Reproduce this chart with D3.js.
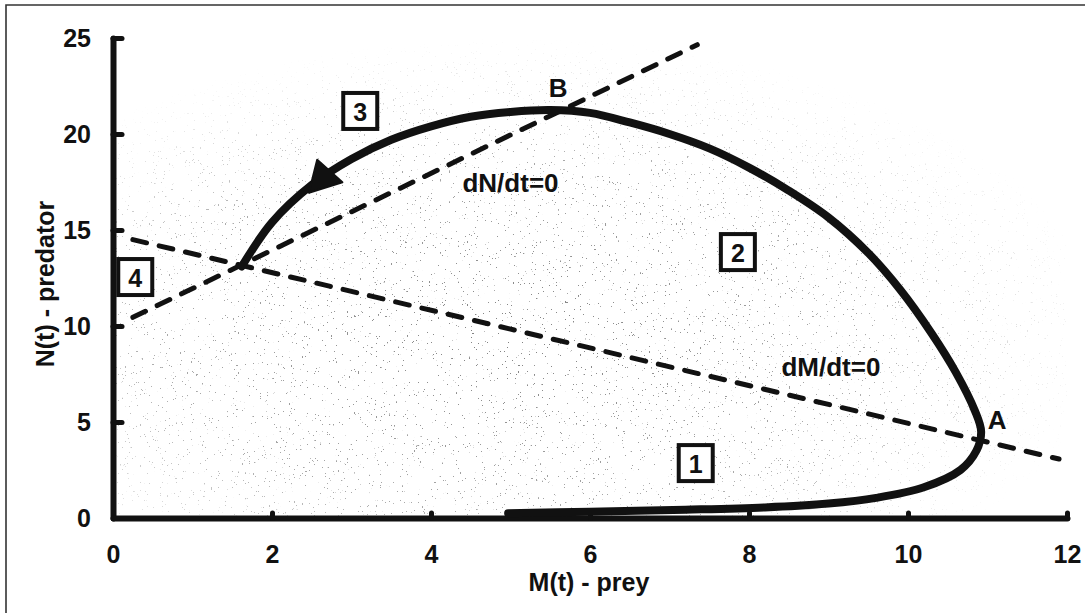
<!DOCTYPE html>
<html><head><meta charset="utf-8">
<script src="https://cdn.jsdelivr.net/npm/d3@7"></script>
<style>
html,body{margin:0;padding:0;background:#fff;}
svg{display:block;}
text{font-family:"Liberation Sans",Arial,sans-serif;font-weight:bold;fill:#111;}
</style></head>
<body><svg id="chart" width="1085" height="613"></svg>
<script>
// ---- data ----
const xTicks = [0, 2, 4, 6, 8, 10, 12];
const yTicks = [0, 5, 10, 15, 20, 25];
const xTitle = "M(t) - prey";
const yTitle = "N(t) - predator";
// trajectory (prey M, predator N)
const orbitM = [1.62, 2.0, 2.5, 3.0, 3.5, 4.0, 4.5, 5.0, 5.5, 6.0, 6.5, 7.0, 7.5, 8.0, 8.5, 9.0, 9.5, 9.9, 10.3, 10.6, 10.84, 10.92, 10.86, 10.66, 10.2, 9.6, 9.0, 8.2, 7.2, 6.0, 4.97];
const orbitN = [13.1, 15.4, 17.35, 18.7, 19.7, 20.4, 20.9, 21.15, 21.25, 21.1, 20.6, 20.0, 19.25, 18.25, 17.05, 15.65, 13.8, 11.9, 9.6, 7.6, 5.6, 4.5, 3.5, 2.5, 1.6, 1.05, 0.75, 0.55, 0.43, 0.33, 0.25];
// null-clines
const dMnullM = [0.25, 11.9];
const dMnullN = [14.5, 3.07];
const dNnullM = [0.25, 7.35];
const dNnullN = [10.45, 24.65];
// arrow marker on trajectory
const arrowM = 2.62, arrowN = 17.8;
// annotations
const labelText = ["A", "B", "dN/dt=0", "dM/dt=0"];
const labelM = [11.12, 5.6, 5.0, 9.03];
const labelN = [5.1, 22.4, 17.45, 7.86];
const boxText = ["1", "2", "3", "4"];
const boxM = [7.33, 7.86, 3.11, 0.28];
const boxN = [2.86, 13.85, 21.2, 12.55];

// ---- drawing ----
const svg = d3.select("#chart");
const W = 1085, H = 613;
const m = {left: 113, top: 38, right: 18, bottom: 95};
const x = d3.scaleLinear().domain([0, 12]).range([m.left, W - m.right]);
const y = d3.scaleLinear().domain([0, 25]).range([H - m.bottom, m.top]);

// scanned-paper speckle texture (sparse dark specks, denser lower-left)
const defs = svg.append("defs");
const f = defs.append("filter").attr("id", "speck")
  .attr("x", 0).attr("y", 0).attr("width", 1).attr("height", 1)
  .attr("color-interpolation-filters", "sRGB");
f.append("feTurbulence").attr("type", "fractalNoise").attr("baseFrequency", 0.55)
  .attr("numOctaves", 2).attr("seed", 7);
f.append("feColorMatrix").attr("type", "matrix")
  .attr("values", "0 0 0 0 0  0 0 0 0 0  0 0 0 0 0  40 0 0 0 -29");
const rg = defs.append("radialGradient").attr("id", "fade")
  .attr("cx", 0.42).attr("cy", 0.62).attr("r", 0.62);
rg.append("stop").attr("offset", 0).attr("stop-color", "#fff");
rg.append("stop").attr("offset", 0.6).attr("stop-color", "#aaa");
rg.append("stop").attr("offset", 1).attr("stop-color", "#000");
const mask = defs.append("mask").attr("id", "fadeMask");
mask.append("rect").attr("x", x(0)).attr("y", y(25)).attr("width", x(12) - x(0)).attr("height", y(0) - y(25))
  .attr("fill", "url(#fade)");
svg.append("rect").attr("x", x(0)).attr("y", y(25)).attr("width", x(12) - x(0)).attr("height", y(0) - y(25))
  .attr("fill", "#fff").attr("filter", "url(#speck)").attr("opacity", 0.5)
  .attr("mask", "url(#fadeMask)");

// outer frame (scanned figure border)
svg.append("path")
  .attr("d", `M6,${H} L6,5 L${W},5`)
  .attr("fill", "none").attr("stroke", "#333").attr("stroke-width", 1.6);

// null-clines
const line = d3.line().x(d => x(d[0])).y(d => y(d[1]));
[[dMnullM, dMnullN], [dNnullM, dNnullN]].forEach(([ms, ns]) => {
  svg.append("path")
    .attr("d", line(ms.map((v, i) => [v, ns[i]])))
    .attr("fill", "none").attr("stroke", "#111").attr("stroke-width", 5)
    .attr("stroke-linecap", "round").attr("stroke-dasharray", "14,13");
});

// axes
const yAxis = d3.axisLeft(y).tickValues(yTicks).tickSizeInner(-9).tickSizeOuter(0).tickPadding(22);
const xAxis = d3.axisBottom(x).tickValues(xTicks).tickSizeInner(-5).tickSizeOuter(0).tickPadding(27);
const gy = svg.append("g").attr("transform", `translate(${m.left},0)`).call(yAxis);
const gx = svg.append("g").attr("transform", `translate(0,${H - m.bottom})`).call(xAxis);
[gx, gy].forEach(g => {
  g.select(".domain").attr("stroke", "#111").attr("stroke-width", 6).attr("stroke-linecap", "round");
  g.selectAll(".tick line").attr("stroke", "#111").attr("stroke-width", 5).attr("stroke-linecap", "round");
  g.selectAll(".tick text").attr("font-size", 25).attr("font-weight", "bold")
    .attr("font-family", "Liberation Sans, Arial, sans-serif").attr("fill", "#111");
});
gx.selectAll(".tick").filter(d => d === 0).select("line").remove();
gy.selectAll(".tick").filter(d => d === 0).select("line").remove();

// trajectory
const curve = d3.line().x(d => x(d[0])).y(d => y(d[1])).curve(d3.curveCatmullRom.alpha(0.5));
svg.append("path")
  .attr("d", curve(orbitM.map((v, i) => [v, orbitN[i]])))
  .attr("fill", "none").attr("stroke", "#111").attr("stroke-width", 8)
  .attr("stroke-linecap", "round").attr("stroke-linejoin", "round");

// arrow head
svg.append("path")
  .attr("d", "M0,-17 L19,11 L-16,13 Z")
  .attr("transform", `translate(${x(arrowM)},${y(arrowN)}) rotate(-14)`)
  .attr("fill", "#111").attr("stroke", "#111").attr("stroke-width", 2).attr("stroke-linejoin", "round");

// labels
labelText.forEach((t, i) => {
  svg.append("text").text(t)
    .attr("x", x(labelM[i])).attr("y", y(labelN[i]))
    .attr("text-anchor", "middle").attr("dominant-baseline", "central")
    .attr("font-size", 26);
});

// boxed region numbers
boxText.forEach((t, i) => {
  const cx = x(boxM[i]), cy = y(boxN[i]);
  svg.append("rect").attr("x", cx - 17).attr("y", cy - 18).attr("width", 34).attr("height", 36)
    .attr("fill", "#fff").attr("stroke", "#111").attr("stroke-width", 4);
  svg.append("text").text(t).attr("x", cx).attr("y", cy + 1)
    .attr("text-anchor", "middle").attr("dominant-baseline", "central")
    .attr("font-size", 25);
});

// axis titles
svg.append("text").text(xTitle)
  .attr("x", 589).attr("y", 591)
  .attr("text-anchor", "middle").attr("font-size", 25);
svg.append("text").text(yTitle)
  .attr("transform", `translate(54,${284}) rotate(-90)`)
  .attr("text-anchor", "middle").attr("font-size", 25);
</script></body></html>
